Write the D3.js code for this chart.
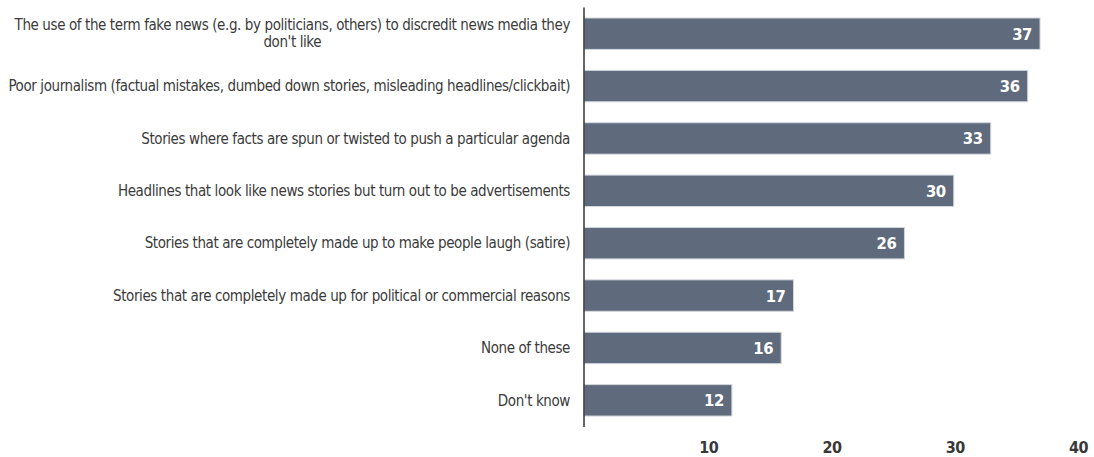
<!DOCTYPE html>
<html>
<head>
<meta charset="utf-8">
<script src="https://cdn.jsdelivr.net/npm/d3@7"></script>
<style>
  html, body { margin: 0; padding: 0; background: #fff; }
  svg { display: block; }
  .cat { font-family: "DejaVu Sans Condensed", "DejaVu Sans", sans-serif; font-stretch: condensed; fill: #3b3b3b; }
  .val { font-family: "DejaVu Sans Condensed", "DejaVu Sans", sans-serif; font-stretch: condensed; fill: #ffffff; font-weight: bold; }
  .tick text { font-family: "DejaVu Sans Condensed", "DejaVu Sans", sans-serif; font-stretch: condensed; fill: #383838; font-weight: bold; }
</style>
</head>
<body>
<svg id="chart" width="1094" height="457"></svg>
<script>
const categories = [
  "The use of the term fake news (e.g. by politicians, others) to discredit news media they don't like",
  "Poor journalism (factual mistakes, dumbed down stories, misleading headlines/clickbait)",
  "Stories where facts are spun or twisted to push a particular agenda",
  "Headlines that look like news stories but turn out to be advertisements",
  "Stories that are completely made up to make people laugh (satire)",
  "Stories that are completely made up for political or commercial reasons",
  "None of these",
  "Don't know"
];
const values = [37, 36, 33, 30, 26, 17, 16, 12];
const tickValues = [10, 20, 30, 40];

const svg = d3.select("#chart");
const x0 = 584;
const x = d3.scaleLinear().domain([0, 40]).range([x0, x0 + 493]);
const y = d3.scaleBand().domain(categories).range([7.5, 426.5]).paddingInner(0.4).paddingOuter(0.2);

// bars
svg.append("g").selectAll("rect").data(values).join("rect")
  .attr("x", x(0))
  .attr("y", (d, i) => y(categories[i]))
  .attr("width", d => x(d) - x(0))
  .attr("height", y.bandwidth())
  .attr("fill", "#5f6b7d")
  .attr("stroke", "#d3d8de")
  .attr("stroke-width", 1);

// value labels
svg.append("g").selectAll("text").data(values).join("text")
  .attr("class", "val")
  .attr("x", d => x(d) - 8)
  .attr("y", (d, i) => y(categories[i]) + y.bandwidth() / 2)
  .attr("dy", "0.36em")
  .attr("text-anchor", "end")
  .attr("font-size", 16.5)
  .attr("letter-spacing", -0.4)
  .text(d => d);

// vertical axis line
svg.append("line")
  .attr("x1", x0).attr("x2", x0)
  .attr("y1", 7.5).attr("y2", 427)
  .attr("stroke", "#333").attr("stroke-width", 1.5);

// category labels with wrapping
const labelRight = 570, targetW = 562, fs = 15, lh = 17;
const cg = svg.append("g");
// fit letter-spacing so the longest single-line label spans the target width
const probe = cg.append("text").attr("class", "cat").attr("font-size", fs).text(categories[1]);
const w1 = probe.node().getComputedTextLength();
const ls = (targetW - w1) / (categories[1].length - 1);
probe.attr("letter-spacing", ls);
const measure = s => { probe.text(s); return probe.node().getComputedTextLength(); };
categories.forEach((c, i) => {
  const t = cg.append("text").attr("class", "cat").attr("font-size", fs)
    .attr("letter-spacing", ls).attr("text-anchor", "end").attr("x", labelRight);
  const words = c.split(" ");
  const lines = [];
  let line = [];
  words.forEach(w => {
    const test = line.concat([w]).join(" ");
    if (measure(test) > 566 && line.length) {
      lines.push(line.join(" "));
      line = [w];
    } else line.push(w);
  });
  lines.push(line.join(" "));
  const cy = y(c) + y.bandwidth() / 2;
  const startY = cy - (lines.length - 1) * lh / 2;
  const w0 = measure(lines[0]);
  lines.forEach((l, k) => {
    const sub = k > 0;
    t.append("tspan")
      .attr("x", sub ? labelRight - w0 / 2 : labelRight)
      .attr("y", startY + k * lh)
      .attr("dy", "0.35em")
      .attr("text-anchor", sub ? "middle" : "end")
      .text(l);
  });
});
probe.remove();

// x axis ticks
const axis = d3.axisBottom(x).tickValues(tickValues).tickSize(0).tickPadding(0);
const ag = svg.append("g").attr("transform", "translate(1,447)").call(axis);
ag.select(".domain").remove();
ag.selectAll(".tick text").attr("font-size", 16).attr("letter-spacing", -0.4).attr("dy", "0.35em");
</script>
</body>
</html>
